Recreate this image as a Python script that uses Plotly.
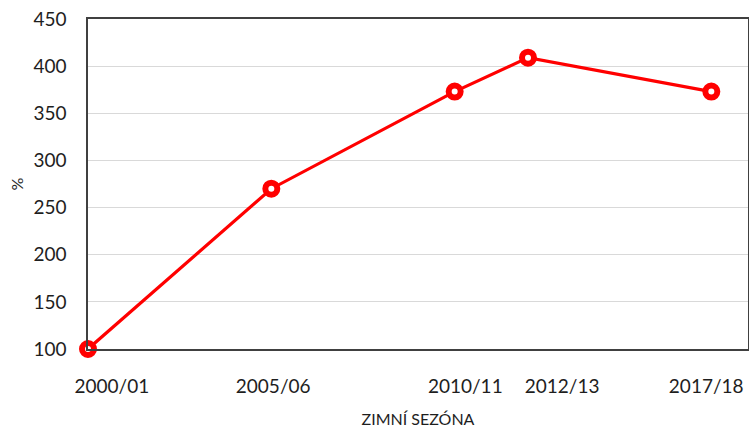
import plotly.graph_objects as go

# Data
seasons = ["2000/01", "2005/06", "2010/11", "2012/13", "2017/18"]
years = [2000, 2005, 2010, 2012, 2017]
values = [100, 270, 373, 409, 373]
# positions of the season labels on the year axis, as they appear
label_years = [2000.65, 2005.05, 2010.29, 2012.93, 2016.86]
y_ticks = [100, 150, 200, 250, 300, 350, 400, 450]

FONT = "Lato"
TXT = "#1e1e1e"

fig = go.Figure()
fig.add_trace(go.Scatter(
    x=years, y=values, mode="lines+markers",
    line=dict(color="#FF0000", width=3.2),
    marker=dict(symbol="circle", size=12, color="white",
                line=dict(color="#FF0000", width=6)),
    cliponaxis=False, showlegend=False,
))

fig.update_layout(
    width=749, height=428,
    margin=dict(l=88, r=1, t=19, b=79),
    paper_bgcolor="white", plot_bgcolor="white",
    font=dict(family=FONT, color=TXT),
    xaxis=dict(
        range=[2000, 2018], tickvals=label_years, ticktext=seasons,
        showgrid=False, zeroline=False,
        showline=True, linecolor="#404040", linewidth=1.5, mirror=True,
        ticks="", ticklabelstandoff=19,
        tickfont=dict(family=FONT, size=19, color=TXT),
        title=dict(text="ZIMNÍ SEZÓNA", font=dict(family=FONT, size=16, color=TXT),
                   standoff=19),
        automargin=False,
    ),
    yaxis=dict(
        range=[100, 450], tickvals=y_ticks,
        showgrid=True, gridcolor="#d9d9d9", gridwidth=1.2, zeroline=False,
        showline=True, linecolor="#404040", linewidth=1.5, mirror=True,
        ticks="", ticklabelstandoff=16,
        tickfont=dict(family=FONT, size=19, color=TXT),
        title=dict(text="%", font=dict(family=FONT, size=16, color=TXT),
                   standoff=6),
        automargin=False,
    ),
)

fig.write_html("out.html", config={"displayModeBar": False},
               post_script="document.body.style.margin='0';")
